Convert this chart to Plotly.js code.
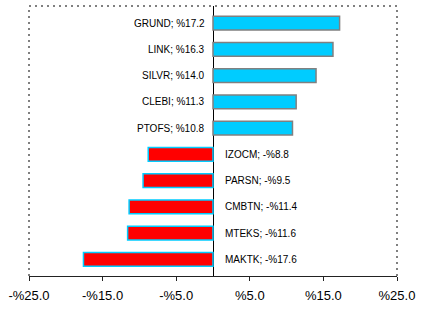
<!DOCTYPE html>
<html>
<head>
<meta charset="utf-8">
<script src="https://cdn.plot.ly/plotly-3.0.1.min.js"></script>
<style>html,body{margin:0;padding:0;background:#fff;}#chart{width:430px;height:314px;}</style>
</head>
<body>
<div id="chart"></div>
<script>
const names = ['GRUND','LINK','SILVR','CLEBI','PTOFS','IZOCM','PARSN','CMBTN','MTEKS','MAKTK'];
const values = [17.2,16.3,14.0,11.3,10.8,-8.8,-9.5,-11.4,-11.6,-17.6];
const tickVals = [-25,-15,-5,5,15,25];
const tickText = ['-%25.0','-%15.0','-%5.0','%5.0','%15.0','%25.0'];

const labels = names.map((n,i)=> n + '; ' + (values[i] < 0 ? '-%' : '%') + Math.abs(values[i]).toFixed(1));

const trace = {
  type: 'bar',
  orientation: 'h',
  x: values,
  y: names,
  width: 0.52,
  marker: {
    color: values.map(v => v >= 0 ? '#00CCFF' : '#FF0000'),
    line: { color: values.map(v => v >= 0 ? '#808080' : '#00CCFF'), width: 1.5 }
  },
  hoverinfo: 'none'
};

const annotations = names.map((n,i)=>({
  x: 0, y: n, xref: 'x', yref: 'y',
  text: labels[i], showarrow: false,
  xanchor: values[i] >= 0 ? 'right' : 'left',
  xshift: values[i] >= 0 ? -6 : 10,
  font: { family: 'Liberation Sans, Arial, sans-serif', size: 10, color: '#000' }
}));

const dot = { color: '#808080', width: 2, dash: '2px,4px' };
const shapes = [
  { type: 'line', xref: 'paper', yref: 'paper', x0: 0, x1: 1, y0: 1, y1: 1, line: dot },
  { type: 'line', xref: 'paper', yref: 'paper', x0: 0, x1: 0, y0: 0, y1: 1, line: dot },
  { type: 'line', xref: 'paper', yref: 'paper', x0: 1, x1: 1, y0: 0, y1: 1, line: dot }
];

const layout = {
  width: 430, height: 314,
  margin: { l: 29, r: 33, t: 6, b: 38 },
  paper_bgcolor: '#fff', plot_bgcolor: '#fff',
  showlegend: false,
  font: { family: 'Liberation Sans, Arial, sans-serif', color: '#000' },
  xaxis: {
    range: [-25, 25], fixedrange: true,
    tickvals: tickVals, ticktext: tickText,
    tickfont: { size: 13, color: '#000' },
    ticklabelstandoff: 3,
    showgrid: false,
    zeroline: true, zerolinecolor: '#000', zerolinewidth: 1,
    showline: true, linecolor: '#222', linewidth: 1,
    ticks: 'outside', ticklen: 4, tickcolor: '#222', tickwidth: 1
  },
  yaxis: {
    type: 'category', categoryorder: 'array', categoryarray: names,
    range: [9.63, -0.65], fixedrange: true,
    showticklabels: false, showgrid: false, zeroline: false, showline: false, ticks: ''
  },
  annotations: annotations,
  shapes: shapes
};

Plotly.newPlot('chart', [trace], layout, { displayModeBar: false, staticPlot: true });
</script>
</body>
</html>
